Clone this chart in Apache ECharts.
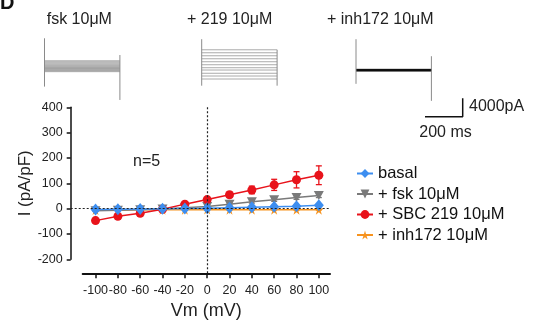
<!DOCTYPE html>
<html>
<head>
<meta charset="utf-8">
<script src="https://cdn.jsdelivr.net/npm/echarts@6/dist/echarts.min.js"></script>
<style>
  html, body { margin: 0; padding: 0; background: #fff; }
  #chart { width: 540px; height: 329px; }
</style>
</head>
<body>
<div id="chart"></div>
<script>
// I-V data (pA/pF) at each holding potential
const vm = [-100, -80, -60, -40, -20, 0, 20, 40, 60, 80, 100];
const xTicks = [-100, -80, -60, -40, -20, 0, 20, 40, 60, 80, 100];
const basal = [-3, -2, -1, 0, 1, 2, 4, 6, 8, 10, 14];
const basalErr = [1, 1, 1, 1, 1, 1, 1, 2, 2, 2, 3];
const fsk = [-8, -6, -4, -1, 4, 9, 18, 27, 35, 44, 52];
const fskErr = [2, 2, 2, 2, 2, 3, 4, 5, 6, 7, 8];
const sbc = [-47, -30, -18, -2, 18, 36, 55, 74, 94, 114, 132];
const sbcErr = [3, 3, 3, 3, 4, 5, 10, 15, 22, 32, 37];
const inh = [-5, -5, -4, -4, -4, -3, -4, -4, -4, -4, -4];
const inhErr = [1, 1, 1, 1, 1, 1, 1, 1, 1, 1, 1];

// example current traces (pA), sweep 0-400 ms
const sweepMs = [0, 400];
const fskSweeps = [-350, -120, 100, 330, 560, 800, 1030, 1270, 1520, 1760, 2000];
const fskArtifacts = [[0, -3600, 6900], [400, -6500, 3260]];
const sbcSweeps = [-1950, -1300, -700, 0, 500, 1150, 1800, 2450, 3100, 3750, 4400];
const sbcArtifacts = [[0, -3400, 6700], [400, -3400, 4400]];
const inhSweeps = [-200, -150, -100, -60, -20, 0, 20, 50, 80, 110, 150];
const inhArtifacts = [[0, -3000, 6700], [400, -6700, 3000]];

// scale bar: 200 ms x 4000 pA
const scaleMs = [0, 200, 200];
const scalePa = [0, 0, 4000];

const FONT = 'Liberation Sans, Arial, sans-serif';
const BLUE = '#3d8ef0', GRAY = '#7a7a7a', RED = '#e8131b', ORANGE = '#f7931e';
const STAR = 'path://M50,0 L61,35 L98,35 L68,57 L79,92 L50,70 L21,92 L32,57 L2,35 L39,35 Z';

function errData(y, e) {
  return vm.map((v, i) => [v, y[i] - e[i], y[i] + e[i]]);
}

function renderErr(params, api) {
  const x = api.value(0);
  const top = api.coord([x, api.value(2)]);
  const bot = api.coord([x, api.value(1)]);
  const w = 3;
  const style = { stroke: api.visual('color'), lineWidth: 1.3 };
  return {
    type: 'group',
    children: [
      { type: 'line', shape: { x1: top[0], y1: top[1], x2: bot[0], y2: bot[1] }, style },
      { type: 'line', shape: { x1: top[0] - w, y1: top[1], x2: top[0] + w, y2: top[1] }, style },
      { type: 'line', shape: { x1: bot[0] - w, y1: bot[1], x2: bot[0] + w, y2: bot[1] }, style }
    ]
  };
}

function sweepRenderer(width) {
  return function (params, api) {
    const lvl = api.value(0);
    const a = api.coord([sweepMs[0], lvl]);
    const b = api.coord([sweepMs[1], lvl]);
    return { type: 'line', shape: { x1: a[0], y1: a[1], x2: b[0], y2: b[1] },
      style: { stroke: api.visual('color'), lineWidth: width } };
  };
}

function renderArtifact(params, api) {
  const t = api.value(0);
  const a = api.coord([t, api.value(1)]);
  const b = api.coord([t, api.value(2)]);
  return { type: 'line', shape: { x1: a[0], y1: a[1], x2: b[0], y2: b[1] },
    style: { stroke: api.visual('color'), lineWidth: 1 } };
}

function errSeries(name, y, e, color) {
  return {
    name: name, type: 'custom', xAxisIndex: 0, yAxisIndex: 0,
    data: errData(y, e), renderItem: renderErr,
    itemStyle: { color: color }, silent: true
  };
}

function lineSeries(name, y, color, symbol, size, extra) {
  return Object.assign({
    name: name, type: 'line', xAxisIndex: 0, yAxisIndex: 0,
    data: vm.map((v, i) => [v, y[i]]),
    symbol: symbol, symbolSize: size, showSymbol: true,
    itemStyle: { color: color }, lineStyle: { color: color, width: 1.5 },
    emphasis: { disabled: true }, animation: false
  }, extra || {});
}

function traceSeries(grid, sweeps, artifacts, color, width) {
  return [
    { type: 'custom', xAxisIndex: grid, yAxisIndex: grid, data: sweeps.map(v => [v]),
      renderItem: sweepRenderer(width), itemStyle: { color: color }, silent: true },
    { type: 'custom', xAxisIndex: grid, yAxisIndex: grid, data: artifacts,
      renderItem: renderArtifact, itemStyle: { color: '#8a8a8a' }, silent: true }
  ];
}

const chart = echarts.init(document.getElementById('chart'));

const dotted = { color: '#222', width: 1.2, type: [2, 2] };
const traceGrid = left => ({ left: left, top: 30, width: 75.4, height: 75 });
const hiddenX = (idx, min, max) => ({ type: 'value', gridIndex: idx, min: min, max: max, show: false });
const hiddenY = (idx, min, max) => ({ type: 'value', gridIndex: idx, min: min, max: max, show: false });

chart.setOption({
  animation: false,
  textStyle: { fontFamily: FONT },
  grid: [
    { left: 82.7, right: 210, top: 107.3, bottom: 55.7 },
    { left: 70.7, right: 210, top: 107.3, bottom: 69.7 },
    traceGrid(44.5),
    traceGrid(201.7),
    traceGrid(356),
    { left: 425, top: 98.3, width: 37.7, height: 18.4 }
  ],
  xAxis: [
    {
      type: 'value', gridIndex: 0, min: -111.5, max: 110,
      axisLine: { onZero: false, lineStyle: { color: '#111', width: 2 } },
      axisTick: { length: 5, lineStyle: { color: '#111', width: 1.5 }, customValues: xTicks },
      axisLabel: { customValues: xTicks, color: '#222', fontSize: 12.5, margin: 11, fontFamily: FONT },
      splitLine: { show: false },
      name: 'Vm (mV)', nameLocation: 'middle', nameGap: 29,
      nameTextStyle: { fontSize: 18, color: '#222', fontFamily: FONT }
    },
    hiddenX(1, 0, 1),
    hiddenX(2, 0, 400),
    hiddenX(3, 0, 400),
    hiddenX(4, 0, 400),
    hiddenX(5, 0, 200)
  ],
  yAxis: [
    hiddenY(0, -254.8, 400),
    {
      type: 'value', gridIndex: 1, min: -200, max: 400, interval: 100,
      axisLine: { show: true, onZero: false, lineStyle: { color: '#111', width: 1.5 } },
      axisTick: { show: true, length: 4, lineStyle: { color: '#111', width: 1.5 } },
      axisLabel: { color: '#222', fontSize: 12.5, margin: 8, fontFamily: FONT },
      splitLine: { show: false },
      name: 'I (pA/pF)', nameLocation: 'middle', nameGap: 31,
      nameTextStyle: { fontSize: 17, color: '#222', fontFamily: FONT }
    },
    hiddenY(2, -7600, 8700),
    hiddenY(3, -7600, 8700),
    hiddenY(4, -7600, 8700),
    hiddenY(5, 0, 4000)
  ],
  legend: {
    data: ['basal', '+ fsk 10μM', '+ SBC 219 10μM', '+ inh172 10μM'],
    orient: 'vertical', left: 351, top: 160,
    itemWidth: 16, itemHeight: 11, itemGap: 3.5,
    textStyle: { fontSize: 16.5, color: '#111', fontFamily: FONT, lineHeight: 16 }
  },
  series: [
    errSeries('e-inh', inh, inhErr, ORANGE),
    lineSeries('+ inh172 10μM', inh, ORANGE, STAR, 10, {
      markLine: { silent: true, symbol: 'none', label: { show: false },
        lineStyle: dotted, data: [{ xAxis: 0 }] }
    }),
    errSeries('e-fsk', fsk, fskErr, GRAY),
    lineSeries('+ fsk 10μM', fsk, GRAY, 'triangle', [10, 9], { symbolRotate: 180 }),
    errSeries('e-sbc', sbc, sbcErr, RED),
    lineSeries('+ SBC 219 10μM', sbc, RED, 'circle', 9),
    errSeries('e-basal', basal, basalErr, BLUE),
    lineSeries('basal', basal, BLUE, 'diamond', [10, 12]),
    {
      type: 'line', xAxisIndex: 1, yAxisIndex: 1, data: [[0, null]], silent: true, symbol: 'none',
      markLine: { silent: true, symbol: 'none', label: { show: false },
        lineStyle: dotted, data: [{ yAxis: 0 }] }
    },
    ...traceSeries(2, fskSweeps, fskArtifacts, '#8c8c8c', 0.8),
    ...traceSeries(3, sbcSweeps, sbcArtifacts, '#a0a0a0', 0.9),
    ...traceSeries(4, inhSweeps, inhArtifacts, '#111', 1),
    {
      type: 'line', xAxisIndex: 5, yAxisIndex: 5, clip: false, silent: true,
      data: scaleMs.map((t, i) => [t, scalePa[i]]), symbol: 'none',
      lineStyle: { color: '#111', width: 1.5 }
    }
  ],
  graphic: [
    { type: 'text', left: 0, top: -7, style: { text: 'D', font: 'bold 20px ' + FONT, fill: '#111' } },
    { type: 'text', x: 46.7, y: 19.5, style: { text: 'fsk 10μM', font: '16px ' + FONT, fill: '#222', verticalAlign: 'middle' } },
    { type: 'text', x: 187, y: 19.5, style: { text: '+ 219 10μM', font: '16px ' + FONT, fill: '#222', verticalAlign: 'middle' } },
    { type: 'text', x: 327, y: 19.5, style: { text: '+ inh172 10μM', font: '16px ' + FONT, fill: '#222', verticalAlign: 'middle' } },
    { type: 'text', x: 469, y: 107, style: { text: '4000pA', font: '16px ' + FONT, fill: '#222', verticalAlign: 'middle' } },
    { type: 'text', x: 445.5, y: 133, style: { text: '200 ms', font: '16px ' + FONT, fill: '#222', align: 'center', verticalAlign: 'middle' } },
    { type: 'text', x: 133, y: 161.5, style: { text: 'n=5', font: '16px ' + FONT, fill: '#222', verticalAlign: 'middle' } }
  ]
});
</script>
</body>
</html>
